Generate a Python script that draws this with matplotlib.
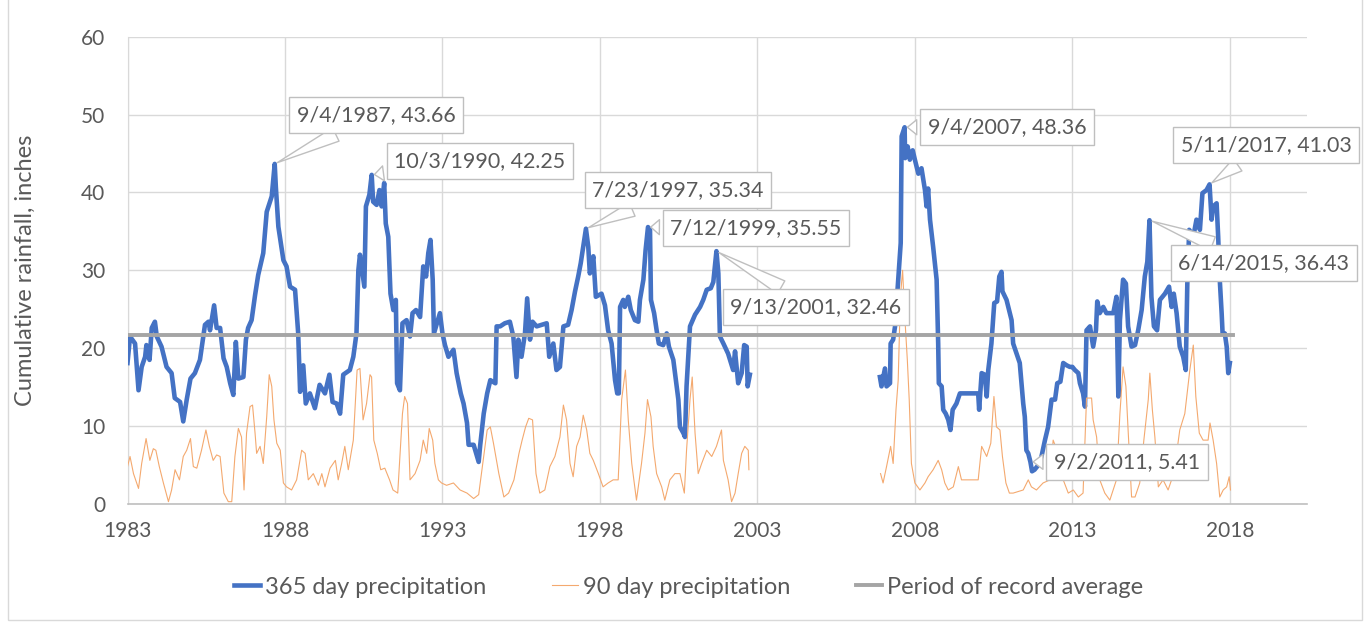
import datetime as dt
import numpy as np
import matplotlib
matplotlib.use("Agg")
import matplotlib.pyplot as plt
from matplotlib.patches import Rectangle

plt.rcParams['font.family'] = ['Lato', 'DejaVu Sans']

# 365 day precipitation (decimal year, inches) - record before the data gap
p365_yr_a = [1983.0, 1983.08, 1983.24, 1983.35, 1983.45, 1983.56, 1983.6, 1983.7, 1983.77, 1983.87,
             1983.93, 1984.08, 1984.24, 1984.4, 1984.5, 1984.67, 1984.77, 1984.88, 1985.0, 1985.14,
             1985.3, 1985.46, 1985.57, 1985.62, 1985.75, 1985.83, 1985.94, 1986.05, 1986.15, 1986.26,
             1986.36, 1986.44, 1986.52, 1986.68, 1986.76, 1986.83, 1986.94, 1987.05, 1987.15, 1987.31,
             1987.42, 1987.58, 1987.674, 1987.71, 1987.79, 1987.95, 1988.05, 1988.16, 1988.32, 1988.42,
             1988.48, 1988.58, 1988.66, 1988.79, 1988.95, 1989.1, 1989.27, 1989.41, 1989.51, 1989.64,
             1989.75, 1989.85, 1990.06, 1990.17, 1990.27, 1990.33, 1990.38, 1990.52, 1990.57, 1990.68,
             1990.753, 1990.8, 1990.91, 1991.0, 1991.07, 1991.15, 1991.2, 1991.28, 1991.35, 1991.44,
             1991.52, 1991.56, 1991.65, 1991.73, 1991.86, 1991.97, 1992.05, 1992.16, 1992.29, 1992.39,
             1992.48, 1992.55, 1992.62, 1992.69, 1992.73, 1992.87, 1992.92, 1993.0, 1993.08, 1993.19,
             1993.35, 1993.45, 1993.58, 1993.67, 1993.78, 1993.83, 1993.99, 1994.15, 1994.2, 1994.31,
             1994.42, 1994.52, 1994.68, 1994.72, 1994.83, 1994.98, 1995.14, 1995.25, 1995.35, 1995.41,
             1995.51, 1995.62, 1995.69, 1995.78, 1995.86, 1995.99, 1996.15, 1996.31, 1996.39, 1996.52,
             1996.62, 1996.73, 1996.84, 1996.99, 1997.1, 1997.21, 1997.31, 1997.39, 1997.556, 1997.63,
             1997.68, 1997.79, 1997.87, 1998.05, 1998.16, 1998.26, 1998.37, 1998.48, 1998.55, 1998.6,
             1998.64, 1998.74, 1998.79, 1998.9, 1998.98, 1999.11, 1999.22, 1999.27, 1999.38, 1999.45,
             1999.526, 1999.59, 1999.62, 1999.72, 1999.8, 1999.87, 2000.01, 2000.12, 2000.19, 2000.33,
             2000.4, 2000.49, 2000.54, 2000.65, 2000.7, 2000.75, 2000.86, 2001.02, 2001.18, 2001.28,
             2001.39, 2001.52, 2001.6, 2001.699, 2001.76, 2001.81, 2001.92, 2002.07, 2002.23, 2002.29,
             2002.39, 2002.5, 2002.58, 2002.66, 2002.69, 2002.76]
p365_a = [18.1, 21.5, 20.6, 14.6, 17.6, 18.9, 20.4, 18.5, 22.6, 23.4,
          21.5, 20.2, 17.6, 16.8, 13.6, 13.1, 10.6, 13.4, 16.1, 16.8,
          18.5, 23.0, 23.4, 22.3, 25.5, 22.6, 22.6, 18.7, 17.6, 15.5,
          14.0, 20.8, 16.1, 16.3, 21.1, 22.6, 23.6, 26.8, 29.4, 32.2,
          37.5, 39.5, 43.66, 40.7, 35.6, 31.3, 30.5, 27.9, 27.5, 21.9,
          14.4, 17.8, 12.9, 14.2, 12.3, 15.3, 14.2, 16.6, 13.1, 12.9,
          11.6, 16.6, 17.2, 18.9, 21.9, 30.0, 32.0, 27.9, 38.2, 39.7,
          42.25, 38.8, 38.4, 40.3, 38.2, 41.2, 36.0, 34.3, 27.0, 24.9,
          26.2, 15.5, 14.6, 23.2, 23.6, 21.5, 24.5, 24.9, 24.0, 30.5,
          29.2, 32.2, 33.9, 28.8, 21.9, 23.8, 24.5, 21.9, 20.4, 18.9,
          19.8, 16.8, 14.2, 12.9, 10.4, 7.6, 7.6, 5.4, 7.6, 11.6,
          14.2, 15.9, 15.5, 22.8, 22.8, 23.2, 23.4, 21.5, 16.3, 21.1,
          18.9, 21.9, 26.4, 21.1, 23.4, 22.8, 23.0, 23.2, 18.9, 20.6,
          17.2, 17.6, 22.8, 23.0, 24.9, 27.3, 29.2, 30.9, 35.34, 33.0,
          29.6, 31.8, 26.6, 27.0, 25.5, 22.3, 20.6, 15.9, 14.2, 14.2,
          25.3, 26.2, 25.3, 26.6, 24.9, 23.6, 23.4, 26.2, 28.8, 32.6,
          35.55, 35.2, 26.2, 24.5, 22.3, 20.6, 20.4, 21.9, 20.2, 18.5,
          16.3, 13.4, 9.9, 9.1, 8.6, 15.1, 22.8, 24.3, 25.3, 26.2,
          27.5, 27.7, 28.5, 32.46, 29.6, 21.5, 20.6, 19.3, 17.2, 19.6,
          15.5, 16.8, 20.4, 20.2, 15.1, 16.6]

# 365 day precipitation - record after the data gap
p365_yr_b = [2006.89, 2006.94, 2007.05, 2007.1, 2007.21, 2007.23, 2007.31, 2007.37, 2007.44, 2007.5,
             2007.55, 2007.58, 2007.674, 2007.69, 2007.77, 2007.84, 2007.93, 2008.0, 2008.11, 2008.21,
             2008.32, 2008.37, 2008.42, 2008.48, 2008.58, 2008.69, 2008.74, 2008.76, 2008.85, 2008.9,
             2008.98, 2009.06, 2009.13, 2009.2, 2009.32, 2009.43, 2009.85, 2010.01, 2010.04, 2010.12,
             2010.22, 2010.28, 2010.33, 2010.43, 2010.52, 2010.61, 2010.68, 2010.75, 2010.78, 2010.91,
             2011.07, 2011.12, 2011.23, 2011.33, 2011.44, 2011.49, 2011.54, 2011.6, 2011.668, 2011.72,
             2011.8, 2011.92, 2012.02, 2012.13, 2012.23, 2012.34, 2012.45, 2012.52, 2012.62, 2012.71,
             2012.82, 2012.92, 2013.0, 2013.08, 2013.19, 2013.24, 2013.34, 2013.4, 2013.45, 2013.56,
             2013.66, 2013.75, 2013.79, 2013.87, 2013.98, 2014.08, 2014.3, 2014.4, 2014.46, 2014.51,
             2014.61, 2014.7, 2014.77, 2014.88, 2014.99, 2015.09, 2015.2, 2015.3, 2015.38, 2015.449,
             2015.51, 2015.59, 2015.69, 2015.78, 2015.94, 2016.07, 2016.15, 2016.22, 2016.31, 2016.41,
             2016.52, 2016.6, 2016.65, 2016.71, 2016.84, 2016.94, 2017.05, 2017.13, 2017.26, 2017.356,
             2017.42, 2017.47, 2017.58, 2017.63, 2017.68, 2017.74, 2017.77, 2017.84, 2017.9, 2017.95,
             2018.0]
p365_b = [16.3, 15.1, 17.4, 15.1, 15.5, 20.6, 21.1, 22.8, 27.0, 30.5,
          33.5, 47.2, 48.36, 44.4, 45.9, 44.2, 45.4, 44.2, 42.4, 43.1,
          40.3, 38.2, 40.5, 36.5, 33.0, 28.8, 20.6, 15.5, 15.1, 12.1,
          11.6, 10.8, 9.5, 12.1, 12.9, 14.2, 14.2, 14.2, 12.1, 16.8,
          16.6, 13.8, 17.2, 20.6, 25.8, 26.0, 29.2, 29.8, 27.3, 26.2,
          23.6, 20.6, 19.3, 18.1, 12.9, 11.2, 6.9, 6.5, 5.41, 4.2,
          4.4, 5.0, 6.1, 8.2, 9.9, 13.4, 13.4, 15.5, 15.7, 18.1,
          17.8, 17.6, 17.6, 17.2, 16.8, 15.5, 14.2, 12.5, 22.3, 22.8,
          20.2, 22.3, 26.0, 24.5, 25.3, 24.5, 24.5, 26.6, 13.8, 23.6,
          28.8, 28.3, 22.8, 20.2, 20.4, 22.3, 24.9, 29.2, 31.1, 36.43,
          26.6, 22.8, 22.3, 26.2, 27.0, 27.9, 25.3, 27.0, 24.5, 20.2,
          18.9, 17.2, 28.3, 35.2, 34.3, 36.5, 35.2, 39.9, 40.3, 41.03,
          36.5, 38.2, 38.6, 34.3, 28.8, 24.5, 21.9, 21.9, 20.2, 16.8,
          18.1]

# 90 day precipitation - before the gap
p90_yr_a = [1983.0, 1983.08, 1983.19, 1983.35, 1983.45, 1983.59, 1983.71, 1983.82, 1983.9, 1984.01,
            1984.14, 1984.3, 1984.4, 1984.51, 1984.65, 1984.77, 1984.88, 1985.0, 1985.09, 1985.2,
            1985.35, 1985.49, 1985.6, 1985.72, 1985.83, 1985.94, 1986.06, 1986.2, 1986.31, 1986.41,
            1986.52, 1986.62, 1986.7, 1986.78, 1986.89, 1986.97, 1987.05, 1987.1, 1987.21, 1987.31,
            1987.42, 1987.5, 1987.58, 1987.65, 1987.74, 1987.85, 1987.95, 1988.05, 1988.21, 1988.37,
            1988.53, 1988.64, 1988.74, 1988.9, 1989.06, 1989.17, 1989.27, 1989.43, 1989.6, 1989.69,
            1989.8, 1989.9, 1990.01, 1990.17, 1990.29, 1990.38, 1990.48, 1990.59, 1990.7, 1990.75,
            1990.82, 1990.93, 1991.04, 1991.17, 1991.32, 1991.43, 1991.58, 1991.73, 1991.8, 1991.89,
            1991.97, 1992.13, 1992.29, 1992.39, 1992.5, 1992.58, 1992.69, 1992.76, 1992.87, 1992.97,
            1993.13, 1993.35, 1993.56, 1993.78, 1993.99, 1994.15, 1994.31, 1994.42, 1994.52, 1994.62,
            1994.79, 1994.95, 1995.1, 1995.27, 1995.43, 1995.53, 1995.64, 1995.74, 1995.86, 1995.97,
            1996.09, 1996.25, 1996.41, 1996.57, 1996.73, 1996.84, 1996.94, 1997.05, 1997.15, 1997.26,
            1997.37, 1997.47, 1997.58, 1997.68, 1997.79, 1997.95, 1998.1, 1998.26, 1998.42, 1998.58,
            1998.69, 1998.81, 1998.9, 1999.01, 1999.16, 1999.32, 1999.43, 1999.51, 1999.62, 1999.69,
            1999.8, 1999.96, 2000.06, 2000.22, 2000.38, 2000.54, 2000.68, 2000.75, 2000.86, 2000.93,
            2001.02, 2001.12, 2001.23, 2001.39, 2001.55, 2001.7, 2001.86, 2001.92, 2002.07, 2002.18,
            2002.29, 2002.39, 2002.5, 2002.6, 2002.71, 2002.73]
p90_a = [4.8, 6.1, 3.9, 2.0, 5.2, 8.4, 5.6, 7.1, 6.9, 4.8,
         2.7, 0.3, 1.8, 4.4, 3.1, 6.1, 6.9, 8.4, 4.8, 4.6,
         6.9, 9.5, 7.4, 5.6, 6.3, 6.1, 1.4, 0.3, 0.3, 6.1,
         9.7, 8.6, 1.8, 9.1, 12.5, 12.7, 9.1, 6.5, 7.4, 5.2,
         11.2, 16.6, 15.1, 10.8, 7.8, 6.9, 2.7, 2.2, 1.8, 3.1,
         6.9, 6.5, 3.1, 3.9, 2.4, 3.9, 2.2, 4.6, 5.6, 3.1,
         5.2, 7.4, 4.4, 8.2, 17.2, 17.4, 10.8, 12.9, 16.6, 16.3,
         8.2, 6.5, 4.4, 4.6, 3.1, 1.8, 1.4, 11.6, 13.8, 12.9,
         3.1, 3.9, 5.6, 8.2, 6.5, 9.7, 8.2, 5.2, 3.1, 2.7,
         2.4, 2.7, 1.8, 1.4, 0.7, 1.2, 6.1, 9.5, 9.9, 7.8,
         3.9, 0.9, 1.4, 3.1, 6.5, 8.2, 9.9, 11.0, 10.8, 3.9,
         1.4, 1.8, 4.8, 6.1, 8.6, 12.7, 10.8, 5.2, 3.5, 7.4,
         8.6, 11.4, 9.5, 6.5, 5.6, 3.9, 2.2, 2.7, 3.1, 3.1,
         13.4, 17.2, 10.8, 5.2, 0.5, 5.2, 9.1, 13.4, 11.2, 7.4,
         3.9, 2.2, 0.5, 3.1, 3.9, 3.9, 1.4, 6.9, 13.4, 16.3,
         9.1, 3.9, 5.2, 6.9, 6.1, 7.4, 9.5, 5.6, 3.1, 0.3,
         1.4, 3.9, 6.5, 7.4, 6.9, 4.4]

# 90 day precipitation - after the gap
p90_yr_b = [2006.91, 2006.99, 2007.1, 2007.23, 2007.31, 2007.4, 2007.47, 2007.54, 2007.61, 2007.68,
            2007.76, 2007.82, 2007.89, 2008.0, 2008.16, 2008.32, 2008.42, 2008.58, 2008.74, 2008.85,
            2008.95, 2009.06, 2009.22, 2009.38, 2009.48, 2009.75, 2010.01, 2010.12, 2010.28, 2010.41,
            2010.51, 2010.59, 2010.7, 2010.78, 2010.89, 2011.0, 2011.12, 2011.28, 2011.44, 2011.6,
            2011.7, 2011.86, 2012.07, 2012.29, 2012.39, 2012.55, 2012.71, 2012.87, 2013.03, 2013.19,
            2013.34, 2013.45, 2013.61, 2013.66, 2013.77, 2013.87, 2014.03, 2014.19, 2014.4, 2014.51,
            2014.61, 2014.7, 2014.77, 2014.88, 2014.99, 2015.14, 2015.27, 2015.41, 2015.46, 2015.54,
            2015.62, 2015.73, 2015.88, 2016.04, 2016.15, 2016.31, 2016.41, 2016.57, 2016.73, 2016.84,
            2016.92, 2017.03, 2017.15, 2017.31, 2017.37, 2017.47, 2017.58, 2017.68, 2017.79, 2017.9,
            2017.98, 2018.02]
p90_b = [3.9, 2.7, 4.8, 7.4, 5.2, 12.1, 15.9, 26.6, 30.0, 24.0,
         18.5, 13.4, 5.2, 2.7, 1.8, 2.7, 3.5, 4.4, 5.6, 4.4,
         2.7, 1.8, 2.2, 4.8, 3.1, 3.1, 3.1, 7.4, 6.1, 7.8,
         13.8, 9.9, 9.5, 6.1, 2.7, 1.4, 1.4, 1.6, 1.8, 3.1,
         2.2, 1.8, 2.7, 3.1, 8.2, 6.5, 3.1, 1.4, 1.8, 0.9,
         1.4, 13.6, 13.6, 10.8, 8.6, 3.1, 1.4, 0.5, 3.1, 11.6,
         17.6, 15.1, 9.5, 0.9, 0.9, 2.7, 8.2, 13.4, 16.8, 12.1,
         8.6, 2.2, 3.1, 1.8, 3.1, 6.5, 9.5, 11.6, 17.2, 20.4,
         13.8, 9.1, 8.2, 8.2, 10.4, 8.2, 5.2, 0.9, 1.8, 2.2,
         3.5, 1.8]

# period of record average
avg_value = 21.7
avg_span = [1983.0, 2018.1]

# labelled extremes of the 365 day series
peak_dates = ['9/4/1987', '10/3/1990', '7/23/1997', '7/12/1999', '9/13/2001',
              '9/4/2007', '9/2/2011', '6/14/2015', '5/11/2017']
peak_values = [43.66, 42.25, 35.34, 35.55, 32.46, 48.36, 5.41, 36.43, 41.03]
# callout box centres, in pixels from the top-left of the image
callout_px = [(376, 115), (480, 161), (678, 190), (756, 228), (816, 307),
              (1007, 127), (1127, 462), (1264, 263), (1266, 145)]


def decimal_year(s):
    d = dt.datetime.strptime(s, '%m/%d/%Y')
    return d.year + (d.timetuple().tm_yday - 1) / 365.0


W, H = 1369, 624
fig = plt.figure(figsize=(W / 100, H / 100), dpi=100)
ax = fig.add_axes([127.5 / W, (H - 504) / H, (1307 - 127.5) / W, (504 - 36.6) / H])

blue = '#4472C4'
orange = '#F4A96F'
grey = '#A5A5A5'
txt = '#595959'

l1, = ax.plot(p365_yr_a, p365_a, color=blue, lw=3.3, solid_joinstyle='round', zorder=3)
ax.plot(p365_yr_b, p365_b, color=blue, lw=3.3, solid_joinstyle='round', zorder=3)
l2, = ax.plot(p90_yr_a, p90_a, color=orange, lw=0.8, zorder=4)
ax.plot(p90_yr_b, p90_b, color=orange, lw=0.8, zorder=4)
l3, = ax.plot(avg_span, [avg_value, avg_value], color=grey, lw=2.8, zorder=5)

ax.set_xlim(1983, 2020.45)
ax.set_ylim(0, 60)
ax.set_xticks(np.arange(1983, 2019, 5))
ax.set_xticklabels([str(y) for y in range(1983, 2019, 5)])
ax.set_yticks(np.arange(0, 61, 10))
ax.grid(True, color='#D9D9D9', lw=1.0)
ax.set_axisbelow(True)
for s in ['top', 'right']:
    ax.spines[s].set_visible(False)
ax.spines['left'].set_color('#D9D9D9')
ax.spines['bottom'].set_color('#BFBFBF')
ax.spines['bottom'].set_linewidth(1.2)
ax.tick_params(length=0, labelsize=15, labelcolor=txt)
ax.tick_params(axis='y', pad=16)
ax.tick_params(axis='x', pad=12)
ax.set_ylabel('Cumulative rainfall, inches', fontsize=17, color=txt)
ax.yaxis.set_label_coords(-0.078, 0.5)

for d, v, (cx, cy) in zip(peak_dates, peak_values, callout_px):
    ax.annotate(f'{d}, {v:.2f}', xy=(decimal_year(d), v), xycoords='data',
                xytext=(cx, H - cy), textcoords='figure pixels',
                ha='center', va='center', fontsize=15.4, color=txt, zorder=10,
                bbox=dict(boxstyle='square,pad=0.36', fc='white', ec='#BFBFBF', lw=1.0),
                arrowprops=dict(arrowstyle='wedge,tail_width=0.7,shrink_factor=0.5',
                                fc='white', ec='#BFBFBF', lw=1.0))

fig.legend([l1, l2, l3], ['365 day precipitation', '90 day precipitation', 'Period of record average'],
           loc='center', bbox_to_anchor=(0.503, (H - 587) / H), ncol=3, frameon=False,
           fontsize=17, labelcolor=txt, handlelength=1.1, handletextpad=0.2, columnspacing=2.8)

fig.add_artist(Rectangle((7.5 / W, 4 / H), (1361.5 - 7.5) / W, 1.0, transform=fig.transFigure,
                         fill=False, ec='#D9D9D9', lw=1.0))

fig.savefig('out.png', dpi=100)
